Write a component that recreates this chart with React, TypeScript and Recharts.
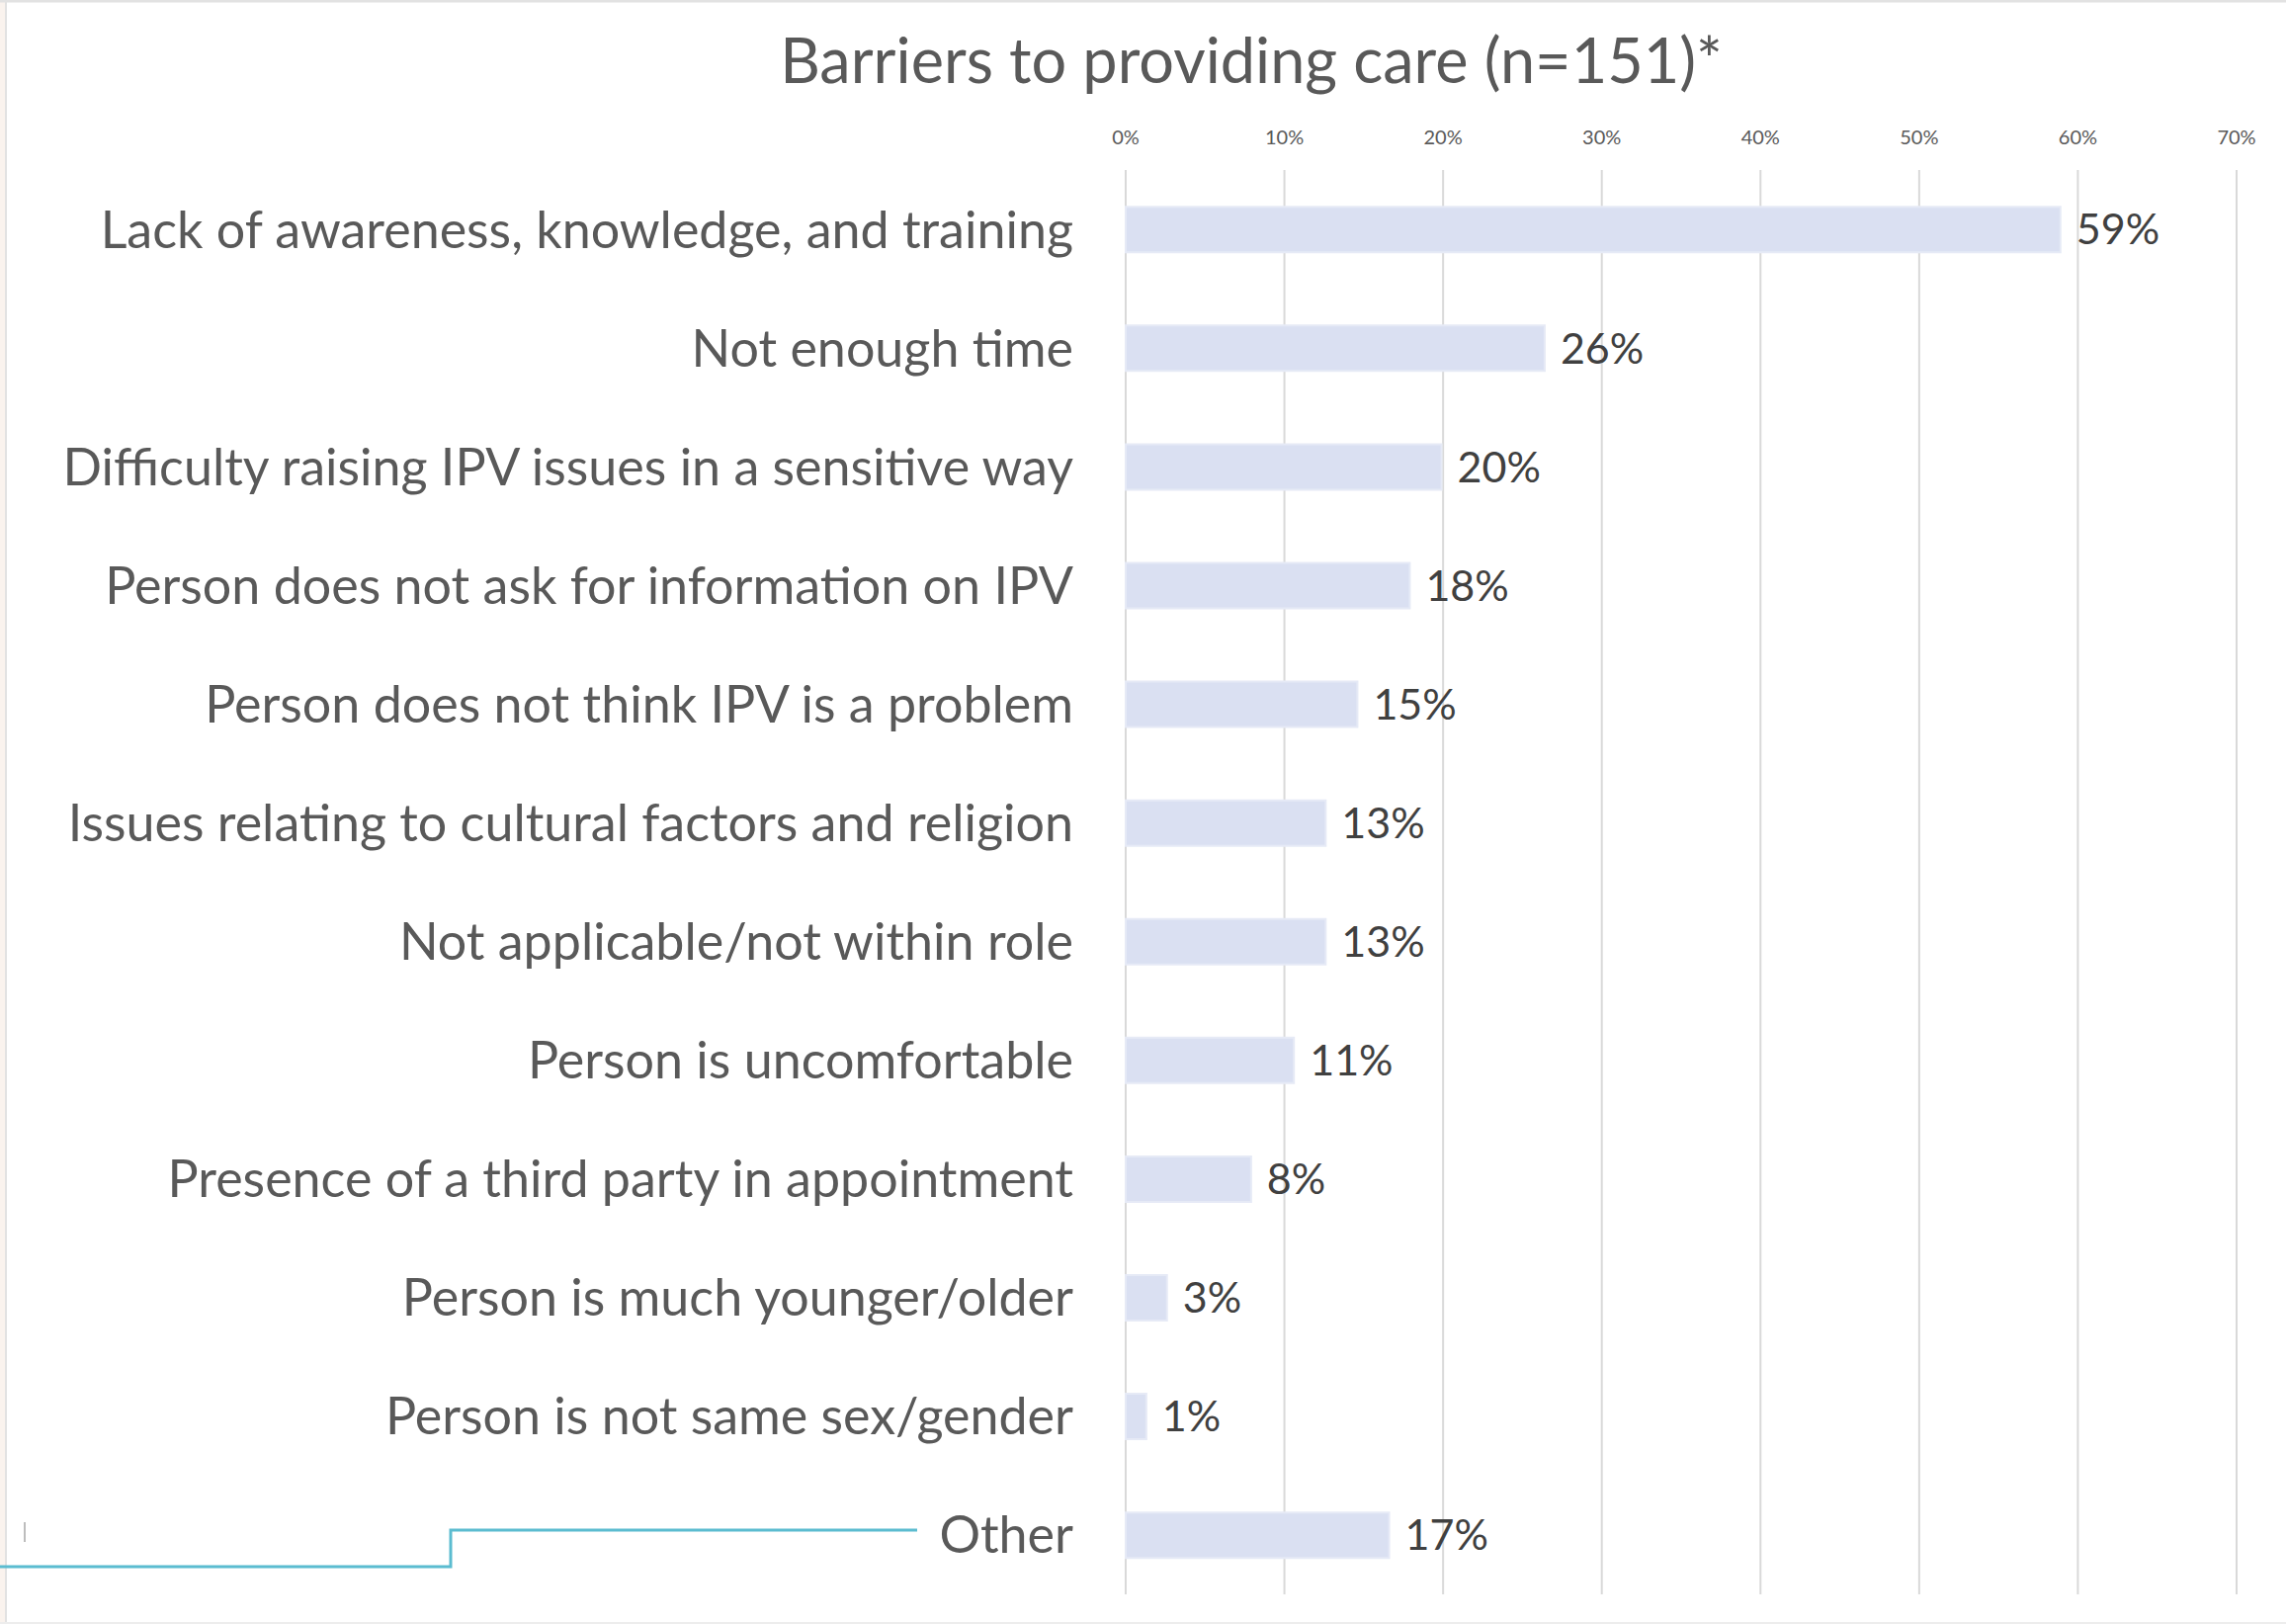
import { BarChart, Bar, XAxis, YAxis, CartesianGrid, LabelList } from 'recharts';

const categories = [
  'Lack of awareness, knowledge, and training',
  'Not enough time',
  'Difficulty raising IPV issues in a sensitive way',
  'Person does not ask for information on IPV',
  'Person does not think IPV is a problem',
  'Issues relating to cultural factors and religion',
  'Not applicable/not within role',
  'Person is uncomfortable',
  'Presence of a third party in appointment',
  'Person is much younger/older',
  'Person is not same sex/gender',
  'Other',
];

const shares = [0.589, 0.264, 0.199, 0.179, 0.146, 0.126, 0.126, 0.106, 0.079, 0.026, 0.013, 0.166];

const xTicks = [0, 0.1, 0.2, 0.3, 0.4, 0.5, 0.6, 0.7];

const title = 'Barriers to providing care (n=151)*';

const FONT = 'Lato, "Open Sans", sans-serif';
const W = 2313;
const H = 1643;

const pct = (v: number) => `${Math.round(v * 100)}%`;

export default function App() {
  const data = categories.map((name, i) => ({ name, value: shares[i] }));

  return (
    <div style={{ position: 'absolute', left: 0, top: 0, width: W, height: H, background: '#fff', fontFamily: FONT }}>
      <BarChart
        width={W}
        height={H}
        data={data}
        layout="vertical"
        margin={{ top: 62, right: 50, bottom: 30, left: 10 }}
        barCategoryGap="31%"
      >
        <text x={1266} y={59} textAnchor="middle" dominantBaseline="central" fontSize={63} fill="#595959" fontFamily={FONT}>
          {title}
        </text>
        <CartesianGrid horizontal={false} stroke="#D9D9D9" strokeWidth={2} />
        <XAxis
          type="number"
          orientation="top"
          domain={[0, 0.7]}
          ticks={xTicks}
          tickFormatter={pct}
          axisLine={false}
          tickLine={false}
          tickSize={0}
          tickMargin={26}
          height={110}
          tick={{ fontSize: 20, fill: '#595959', fontFamily: FONT }}
        />
        <YAxis
          type="category"
          dataKey="name"
          width={1129}
          axisLine={false}
          tickLine={false}
          tickSize={0}
          tickMargin={53}
          interval={0}
          tick={{ fontSize: 52, fill: '#595959', fontFamily: FONT }}
        />
        <Bar dataKey="value" fill="#DAE0F2" stroke="#E6EAF6" strokeWidth={2} isAnimationActive={false}>
          <LabelList dataKey="value" position="right" offset={16} formatter={(v: number) => pct(v)} fontSize={43} fill="#404040" fontFamily={FONT} />
        </Bar>
      </BarChart>
      <svg width={W} height={H} style={{ position: 'absolute', left: 0, top: 0, pointerEvents: 'none' }}>
        <rect x={0} y={0} width={5} height={H} fill="#FAF3EE" />
        <line x1={6} y1={0} x2={6} y2={H} stroke="#E2E2E2" strokeWidth={2} />
        <line x1={0} y1={1} x2={W} y2={1} stroke="#E2E2E2" strokeWidth={3} />
        <line x1={0} y1={H - 1} x2={W} y2={H - 1} stroke="#EDEDED" strokeWidth={2} />
        <polyline points="0,1585 456,1585 456,1548 928,1548" fill="none" stroke="#5BBCD0" strokeWidth={3} />
        <line x1={25} y1={1540} x2={25} y2={1560} stroke="#BDBDBD" strokeWidth={2} />
      </svg>
    </div>
  );
}
